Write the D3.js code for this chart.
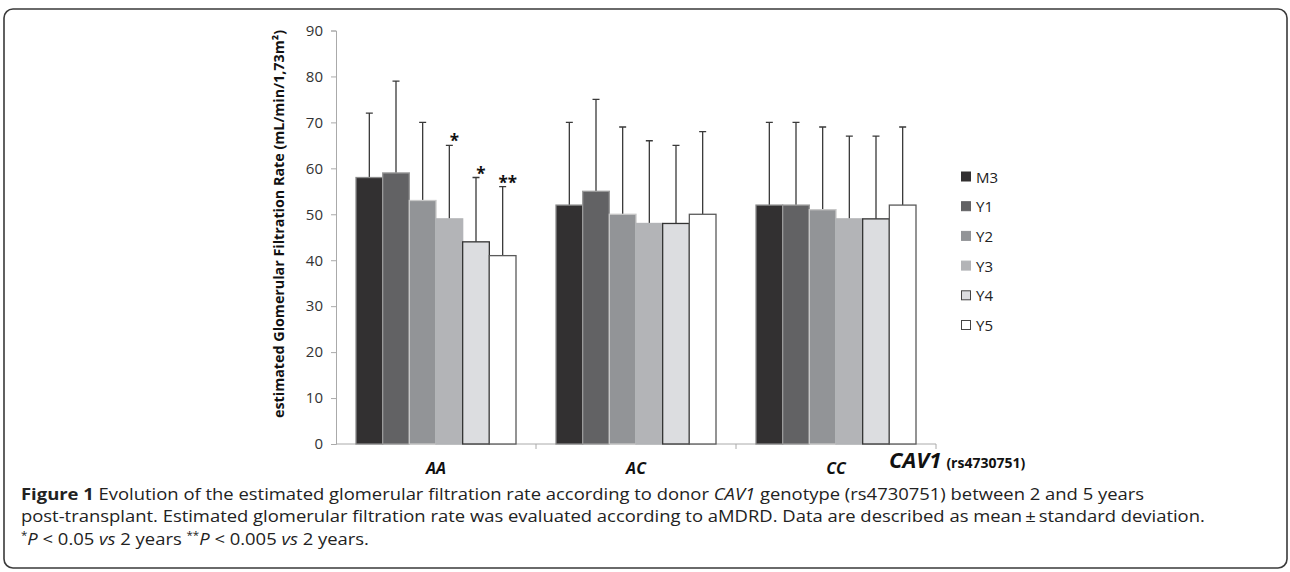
<!DOCTYPE html>
<html>
<head>
<meta charset="utf-8">
<script src="https://cdn.jsdelivr.net/npm/d3@7"></script>
<style>
  body { margin: 0; background: #fff; }
  svg { display: block; font-family: "Open Sans", sans-serif; }
</style>
</head>
<body>
<svg id="chart" width="1290" height="572"></svg>
<script>
// data
var genotypes = ['AA', 'AC', 'CC'];
var timepoints = ['M3', 'Y1', 'Y2', 'Y3', 'Y4', 'Y5'];
var meanAA = [58, 59, 53, 49, 44, 41];
var meanAC = [52, 55, 50, 48, 48, 50];
var meanCC = [52, 52, 51, 49, 49, 52];
var upperAA = [72, 79, 70, 65, 58, 56];
var upperAC = [70, 75, 69, 66, 65, 68];
var upperCC = [70, 70, 69, 67, 67, 69];
var yTicks = [0, 10, 20, 30, 40, 50, 60, 70, 80, 90];
var starGenotype = ['AA', 'AA', 'AA'];
var starTimepoint = ['Y3', 'Y4', 'Y5'];
var starLabel = ['*', '*', '**'];

var means = { AA: meanAA, AC: meanAC, CC: meanCC };
var uppers = { AA: upperAA, AC: upperAC, CC: upperCC };

var fills = ['#323031', '#626264', '#929497', '#b3b4b7', '#dcdde0', '#ffffff'];
var strokes = ['#8a8a8a', '#9a9a9a', '#c8c8c8', '#b3b4b7', '#333333', '#5a5a5a'];

var svg = d3.select('#chart');

// frame around figure + caption
svg.append('rect')
    .attr('x', 4).attr('y', 9)
    .attr('width', 1283).attr('height', 559)
    .attr('rx', 9)
    .attr('fill', 'none')
    .attr('stroke', '#3a3a3a')
    .attr('stroke-width', 1.6);

var x0 = d3.scaleBand()
    .domain(genotypes)
    .range([336, 936])
    .paddingInner(0.2)
    .paddingOuter(0.1);

var x1 = d3.scaleBand()
    .domain(timepoints)
    .range([0, x0.bandwidth()]);

var y = d3.scaleLinear()
    .domain([0, 90])
    .range([444, 30.5]);

// y axis
var yAxis = svg.append('g')
    .attr('transform', 'translate(336,0)')
    .call(d3.axisLeft(y).tickValues(yTicks).tickSize(5).tickPadding(8));
yAxis.select('.domain').attr('stroke', '#aaa');
yAxis.selectAll('.tick line').attr('stroke', '#aaa');
yAxis.selectAll('.tick text')
    .attr('font-family', '"Open Sans", sans-serif')
    .attr('font-size', 15)
    .attr('fill', '#333');

// x axis: ticks sit between categories
var xAxis = svg.append('g').attr('transform', 'translate(0,444)');
xAxis.append('line')
    .attr('x1', 336).attr('x2', 936)
    .attr('stroke', '#aaa');
var bounds = genotypes.map(function(g) { return x0(g) - x0.step() * x0.paddingInner() / 2; });
bounds.push(936);
xAxis.selectAll('.xt')
    .data(bounds.slice(1))
    .join('line')
    .attr('class', 'xt')
    .attr('x1', d => d).attr('x2', d => d)
    .attr('y1', 0).attr('y2', 5)
    .attr('stroke', '#aaa');

svg.selectAll('.glabel')
    .data(genotypes)
    .join('text')
    .attr('class', 'glabel')
    .attr('x', d => x0(d) + x0.bandwidth() / 2)
    .attr('y', 474)
    .attr('text-anchor', 'middle')
    .attr('font-size', 16)
    .attr('font-weight', 'bold')
    .attr('font-style', 'italic')
    .attr('fill', '#111')
    .text(d => d);

var cav = svg.append('text')
    .attr('x', 889).attr('y', 468)
    .attr('fill', '#111')
    .attr('font-weight', 'bold');
cav.append('tspan').attr('font-size', 22).attr('font-style', 'italic').text('CAV1');
cav.append('tspan').attr('font-size', 14).attr('dx', 5).text('(rs4730751)');

// y axis title
svg.append('text')
    .attr('transform', 'translate(284,224) rotate(-90)')
    .attr('text-anchor', 'middle')
    .attr('font-size', 14.5)
    .attr('font-weight', 'bold')
    .attr('fill', '#111')
    .attr('textLength', 388)
    .attr('lengthAdjust', 'spacingAndGlyphs')
    .text('estimated Glomerular Filtration Rate (mL/min/1,73m\u00b2)');

// bars
var rows = [];
genotypes.forEach(function(g) {
    timepoints.forEach(function(t, i) {
        rows.push({ g: g, t: t, i: i, mean: means[g][i], upper: uppers[g][i] });
    });
});

var groups = svg.selectAll('.group')
    .data(genotypes)
    .join('g')
    .attr('class', 'group')
    .attr('transform', d => `translate(${x0(d)},0)`);

// error bars first so bars draw over the stem
groups.selectAll('.err')
    .data(g => rows.filter(r => r.g == g))
    .join('path')
    .attr('class', 'err')
    .attr('d', function(d) {
        var cx = x1(d.t) + x1.bandwidth() / 2;
        return `M${cx},${y(d.mean)}V${y(d.upper)}M${cx - 3.5},${y(d.upper)}H${cx + 3.5}`;
    })
    .attr('fill', 'none')
    .attr('stroke', '#3a3a3a')
    .attr('stroke-width', 1.3);

groups.selectAll('.bar')
    .data(g => rows.filter(r => r.g == g))
    .join('rect')
    .attr('class', 'bar')
    .attr('x', d => x1(d.t))
    .attr('y', d => y(d.mean))
    .attr('width', x1.bandwidth())
    .attr('height', d => y(0) - y(d.mean))
    .attr('fill', d => fills[d.i])
    .attr('stroke', d => strokes[d.i])
    .attr('stroke-width', 1.3);

// significance stars
starLabel.forEach(function(s, k) {
    var g = starGenotype[k], t = starTimepoint[k];
    var i = timepoints.indexOf(t);
    svg.append('text')
        .attr('x', x0(g) + x1(t) + x1.bandwidth() / 2 + 5)
        .attr('y', y(uppers[g][i]) + 2)
        .attr('text-anchor', 'middle')
        .attr('font-size', 17)
        .attr('font-weight', 'bold')
        .attr('fill', '#111')
        .text(s);
});

// legend
var legend = svg.selectAll('.leg')
    .data(timepoints)
    .join('g')
    .attr('class', 'leg')
    .attr('transform', (d, i) => `translate(961,${177 + i * 29.7})`);
legend.append('rect')
    .attr('x', 0.5).attr('y', -5)
    .attr('width', 9).attr('height', 9)
    .attr('fill', (d, i) => fills[i])
    .attr('stroke', (d, i) => i >= 4 ? '#444' : fills[i]);
legend.append('text')
    .attr('x', 15).attr('y', 5.5)
    .attr('font-size', 15)
    .attr('fill', '#222')
    .text(d => d);

// caption
var cap = svg.append('g').attr('class', 'caption').attr('fill', '#222');
var l1 = cap.append('text').attr('x', 0).attr('y', 500).attr('font-size', 16);
l1.append('tspan').attr('font-weight', 'bold').text('Figure 1');
l1.append('tspan').text(' Evolution of the estimated glomerular filtration rate according to donor ');
l1.append('tspan').attr('font-style', 'italic').text('CAV1');
l1.append('tspan').text(' genotype (rs4730751) between 2 and 5 years');
var l2 = cap.append('text').attr('x', 0).attr('y', 522).attr('font-size', 16)
    .text('post-transplant. Estimated glomerular filtration rate was evaluated according to aMDRD. Data are described as mean\u2009\u00b1\u2009standard deviation.');
var l3 = cap.append('text').attr('x', 0).attr('y', 545).attr('font-size', 16);
l3.append('tspan').attr('font-size', 10).attr('dy', -6).text('*');
l3.append('tspan').attr('font-style', 'italic').attr('dy', 6).text('P');
l3.append('tspan').text(' < 0.05 ');
l3.append('tspan').attr('font-style', 'italic').text('vs');
l3.append('tspan').text(' 2 years ');
l3.append('tspan').attr('font-size', 10).attr('dy', -6).text('**');
l3.append('tspan').attr('font-style', 'italic').attr('dy', 6).text('P');
l3.append('tspan').text(' < 0.005 ');
l3.append('tspan').attr('font-style', 'italic').text('vs');
l3.append('tspan').text(' 2 years.');

// squeeze caption horizontally to match the narrow typeface of the original
var w2 = l2.node().getComputedTextLength();
var sx = (1205 - 21) / w2;
cap.attr('transform', `translate(21,0) scale(${sx},1)`);
</script>
</body>
</html>
